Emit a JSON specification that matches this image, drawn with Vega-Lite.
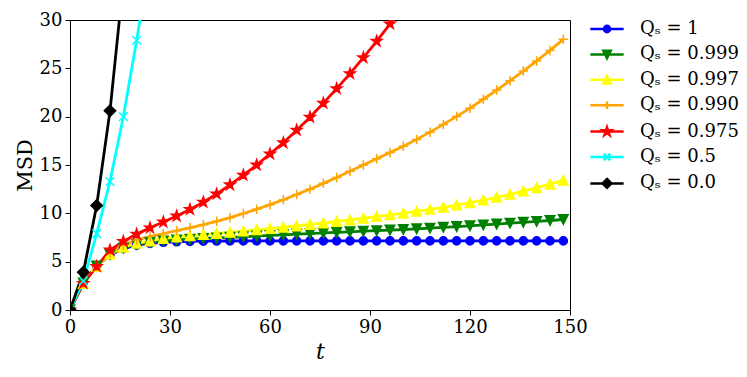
{
  "$schema": "https://vega.github.io/schema/vega-lite/v6.json",
  "width": 500,
  "height": 290,
  "autosize": "none",
  "padding": {"left": 70, "top": 20, "right": 177, "bottom": 67},
  "background": "white",
  "config": {
    "view": {"stroke": "#000", "strokeWidth": 1},
    "axis": {"domainColor": "#000", "domainWidth": 1, "tickColor": "#000", "tickWidth": 1, "tickSize": 5, "labelFont": "DejaVu Serif", "labelFontSize": 18, "labelColor": "#000", "titleFont": "DejaVu Serif", "titleFontWeight": "normal", "titleColor": "#000", "grid": false},
    "legend": {"orient": "right", "offset": 27.5, "padding": 0, "symbolSize": 81, "labelOffset": 24, "labelFont": "DejaVu Serif", "labelFontSize": 18, "labelColor": "#000", "rowPadding": 7.4, "symbolStrokeWidth": 2.5, "symbolOpacity": 1}
  },
  "datasets": {"msd": [
    {"q":"1","t":0,"msd":0},{"q":"1","t":4,"msd":2.8},{"q":"1","t":8,"msd":4.55},{"q":"1","t":12,"msd":5.7},{"q":"1","t":16,"msd":6.35},{"q":"1","t":20,"msd":6.7},{"q":"1","t":24,"msd":6.9},{"q":"1","t":28,"msd":7.0},{"q":"1","t":32,"msd":7.06},{"q":"1","t":36,"msd":7.1},{"q":"1","t":40,"msd":7.12},{"q":"1","t":44,"msd":7.13},{"q":"1","t":48,"msd":7.14},{"q":"1","t":52,"msd":7.15},{"q":"1","t":56,"msd":7.15},{"q":"1","t":60,"msd":7.15},{"q":"1","t":64,"msd":7.15},{"q":"1","t":68,"msd":7.15},{"q":"1","t":72,"msd":7.15},{"q":"1","t":76,"msd":7.15},{"q":"1","t":80,"msd":7.15},{"q":"1","t":84,"msd":7.15},{"q":"1","t":88,"msd":7.15},{"q":"1","t":92,"msd":7.15},{"q":"1","t":96,"msd":7.15},{"q":"1","t":100,"msd":7.15},{"q":"1","t":104,"msd":7.15},{"q":"1","t":108,"msd":7.15},{"q":"1","t":112,"msd":7.15},{"q":"1","t":116,"msd":7.15},{"q":"1","t":120,"msd":7.15},{"q":"1","t":124,"msd":7.15},{"q":"1","t":128,"msd":7.15},{"q":"1","t":132,"msd":7.15},{"q":"1","t":136,"msd":7.15},{"q":"1","t":140,"msd":7.15},{"q":"1","t":144,"msd":7.15},{"q":"1","t":148,"msd":7.15},
    {"q":"0.999","t":0,"msd":0},{"q":"0.999","t":4,"msd":2.8},{"q":"0.999","t":8,"msd":4.55},{"q":"0.999","t":12,"msd":5.75},{"q":"0.999","t":16,"msd":6.4},{"q":"0.999","t":20,"msd":6.8},{"q":"0.999","t":24,"msd":7.0},{"q":"0.999","t":28,"msd":7.15},{"q":"0.999","t":32,"msd":7.25},{"q":"0.999","t":36,"msd":7.33},{"q":"0.999","t":40,"msd":7.4},{"q":"0.999","t":44,"msd":7.46},{"q":"0.999","t":48,"msd":7.52},{"q":"0.999","t":52,"msd":7.58},{"q":"0.999","t":56,"msd":7.65},{"q":"0.999","t":60,"msd":7.71},{"q":"0.999","t":64,"msd":7.78},{"q":"0.999","t":68,"msd":7.85},{"q":"0.999","t":72,"msd":7.91},{"q":"0.999","t":76,"msd":7.97},{"q":"0.999","t":80,"msd":8.03},{"q":"0.999","t":84,"msd":8.09},{"q":"0.999","t":88,"msd":8.15},{"q":"0.999","t":92,"msd":8.21},{"q":"0.999","t":96,"msd":8.27},{"q":"0.999","t":100,"msd":8.33},{"q":"0.999","t":104,"msd":8.4},{"q":"0.999","t":108,"msd":8.47},{"q":"0.999","t":112,"msd":8.55},{"q":"0.999","t":116,"msd":8.63},{"q":"0.999","t":120,"msd":8.71},{"q":"0.999","t":124,"msd":8.8},{"q":"0.999","t":128,"msd":8.89},{"q":"0.999","t":132,"msd":8.98},{"q":"0.999","t":136,"msd":9.07},{"q":"0.999","t":140,"msd":9.16},{"q":"0.999","t":144,"msd":9.26},{"q":"0.999","t":148,"msd":9.36},
    {"q":"0.997","t":0,"msd":0},{"q":"0.997","t":4,"msd":2.75},{"q":"0.997","t":8,"msd":4.5},{"q":"0.997","t":12,"msd":5.8},{"q":"0.997","t":16,"msd":6.5},{"q":"0.997","t":20,"msd":6.9},{"q":"0.997","t":24,"msd":7.15},{"q":"0.997","t":28,"msd":7.4},{"q":"0.997","t":32,"msd":7.55},{"q":"0.997","t":36,"msd":7.68},{"q":"0.997","t":40,"msd":7.8},{"q":"0.997","t":44,"msd":7.92},{"q":"0.997","t":48,"msd":8.04},{"q":"0.997","t":52,"msd":8.16},{"q":"0.997","t":56,"msd":8.29},{"q":"0.997","t":60,"msd":8.42},{"q":"0.997","t":64,"msd":8.56},{"q":"0.997","t":68,"msd":8.7},{"q":"0.997","t":72,"msd":8.85},{"q":"0.997","t":76,"msd":9.0},{"q":"0.997","t":80,"msd":9.16},{"q":"0.997","t":84,"msd":9.32},{"q":"0.997","t":88,"msd":9.49},{"q":"0.997","t":92,"msd":9.66},{"q":"0.997","t":96,"msd":9.84},{"q":"0.997","t":100,"msd":10.02},{"q":"0.997","t":104,"msd":10.21},{"q":"0.997","t":108,"msd":10.41},{"q":"0.997","t":112,"msd":10.62},{"q":"0.997","t":116,"msd":10.85},{"q":"0.997","t":120,"msd":11.1},{"q":"0.997","t":124,"msd":11.37},{"q":"0.997","t":128,"msd":11.66},{"q":"0.997","t":132,"msd":11.97},{"q":"0.997","t":136,"msd":12.3},{"q":"0.997","t":140,"msd":12.65},{"q":"0.997","t":144,"msd":13.02},{"q":"0.997","t":148,"msd":13.41},
    {"q":"0.990","t":0,"msd":0},{"q":"0.990","t":4,"msd":2.75},{"q":"0.990","t":8,"msd":4.5},{"q":"0.990","t":12,"msd":5.85},{"q":"0.990","t":16,"msd":6.7},{"q":"0.990","t":20,"msd":7.25},{"q":"0.990","t":24,"msd":7.6},{"q":"0.990","t":28,"msd":7.9},{"q":"0.990","t":32,"msd":8.2},{"q":"0.990","t":36,"msd":8.5},{"q":"0.990","t":40,"msd":8.83},{"q":"0.990","t":44,"msd":9.17},{"q":"0.990","t":48,"msd":9.55},{"q":"0.990","t":52,"msd":9.98},{"q":"0.990","t":56,"msd":10.42},{"q":"0.990","t":60,"msd":10.9},{"q":"0.990","t":64,"msd":11.4},{"q":"0.990","t":68,"msd":11.95},{"q":"0.990","t":72,"msd":12.5},{"q":"0.990","t":76,"msd":13.1},{"q":"0.990","t":80,"msd":13.7},{"q":"0.990","t":84,"msd":14.35},{"q":"0.990","t":88,"msd":15.0},{"q":"0.990","t":92,"msd":15.65},{"q":"0.990","t":96,"msd":16.3},{"q":"0.990","t":100,"msd":16.95},{"q":"0.990","t":104,"msd":17.65},{"q":"0.990","t":108,"msd":18.4},{"q":"0.990","t":112,"msd":19.2},{"q":"0.990","t":116,"msd":20.03},{"q":"0.990","t":120,"msd":20.88},{"q":"0.990","t":124,"msd":21.8},{"q":"0.990","t":128,"msd":22.75},{"q":"0.990","t":132,"msd":23.72},{"q":"0.990","t":136,"msd":24.72},{"q":"0.990","t":140,"msd":25.76},{"q":"0.990","t":144,"msd":26.85},{"q":"0.990","t":148,"msd":28.0},
    {"q":"0.975","t":0,"msd":0},{"q":"0.975","t":4,"msd":2.75},{"q":"0.975","t":8,"msd":4.5},{"q":"0.975","t":12,"msd":6.2},{"q":"0.975","t":16,"msd":7.1},{"q":"0.975","t":20,"msd":7.85},{"q":"0.975","t":24,"msd":8.5},{"q":"0.975","t":28,"msd":9.1},{"q":"0.975","t":32,"msd":9.72},{"q":"0.975","t":36,"msd":10.4},{"q":"0.975","t":40,"msd":11.15},{"q":"0.975","t":44,"msd":12.0},{"q":"0.975","t":48,"msd":12.95},{"q":"0.975","t":52,"msd":13.95},{"q":"0.975","t":56,"msd":15.0},{"q":"0.975","t":60,"msd":16.15},{"q":"0.975","t":64,"msd":17.3},{"q":"0.975","t":68,"msd":18.6},{"q":"0.975","t":72,"msd":19.95},{"q":"0.975","t":76,"msd":21.4},{"q":"0.975","t":80,"msd":22.9},{"q":"0.975","t":84,"msd":24.45},{"q":"0.975","t":88,"msd":26.1},{"q":"0.975","t":92,"msd":27.8},{"q":"0.975","t":96,"msd":29.6},{"q":"0.975","t":100,"msd":31.5},
    {"q":"0.5","t":0,"msd":0},{"q":"0.5","t":4,"msd":3.0},{"q":"0.5","t":8,"msd":7.9},{"q":"0.5","t":12,"msd":13.3},{"q":"0.5","t":16,"msd":20.0},{"q":"0.5","t":20,"msd":27.9},{"q":"0.5","t":24,"msd":36.5},
    {"q":"0.0","t":0,"msd":0},{"q":"0.0","t":4,"msd":3.9},{"q":"0.0","t":8,"msd":10.8},{"q":"0.0","t":12,"msd":20.6},{"q":"0.0","t":16,"msd":34.0}
  ]},
  "data": {"name": "msd"},
  "encoding": {
    "x": {"field": "t", "type": "quantitative", "scale": {"domain": [0, 150], "nice": false, "zero": false}, "axis": {"values": [0, 30, 60, 90, 120, 150], "title": "t", "titleFontStyle": "italic", "titleFontSize": 22, "titlePadding": 5, "labelPadding": 3, "labelFlush": false}},
    "y": {"field": "msd", "type": "quantitative", "scale": {"domain": [0, 30], "nice": false}, "axis": {"values": [0, 5, 10, 15, 20, 25, 30], "title": "MSD", "titleFontSize": 21, "titlePadding": 4, "labelPadding": 3, "labelFlush": false}}
  },
  "layer": [
    {
      "mark": {"type": "line", "strokeWidth": 2.8, "clip": true},
      "encoding": {
        "color": {"field": "q", "type": "nominal", "scale": {"domain": ["1", "0.999", "0.997", "0.990", "0.975", "0.5", "0.0"], "range": ["#0000ff", "#008000", "#ffff00", "#ffa500", "#ff0000", "#00ffff", "#000000"]}, "legend": {"title": null, "labelExpr": "'Qₛ = ' + datum.label"}}
      }
    },
    {"transform": [{"filter": {"field": "q", "equal": "1"}}], "mark": {"type": "point", "shape": "M-0.85,0A0.85,0.85,0,1,0,0.85,0A0.85,0.85,0,1,0,-0.85,0Z", "filled": true, "fill": "#0000ff", "stroke": "#0000ff", "opacity": 1, "size": 90, "strokeWidth": 1.5, "clip": true}},
    {"transform": [{"filter": {"field": "q", "equal": "0.999"}}], "mark": {"type": "point", "shape": "M0,1L-1,-1L1,-1Z", "filled": true, "fill": "#008000", "stroke": "#008000", "opacity": 1, "size": 90, "strokeWidth": 1.5, "clip": true}},
    {"transform": [{"filter": {"field": "q", "equal": "0.997"}}], "mark": {"type": "point", "shape": "M0,-1L-1,1L1,1Z", "filled": true, "fill": "#ffff00", "stroke": "#ffff00", "opacity": 1, "size": 90, "strokeWidth": 1.5, "clip": true}},
    {"transform": [{"filter": {"field": "q", "equal": "0.990"}}], "mark": {"type": "point", "shape": "M-1,0H1M0,-1V1", "filled": true, "fill": "#ffa500", "stroke": "#ffa500", "opacity": 1, "size": 90, "strokeWidth": 1.5, "clip": true}},
    {"transform": [{"filter": {"field": "q", "equal": "0.975"}}], "mark": {"type": "point", "shape": "M0,-1.15L0.26,-0.36L1.09,-0.36L0.42,0.14L0.68,0.93L0,0.44L-0.68,0.93L-0.42,0.14L-1.09,-0.36L-0.26,-0.36Z", "filled": true, "fill": "#ff0000", "stroke": "#ff0000", "opacity": 1, "size": 90, "strokeWidth": 1.5, "clip": true}},
    {"transform": [{"filter": {"field": "q", "equal": "0.5"}}], "mark": {"type": "point", "shape": "M-0.9,-0.9L0.9,0.9M-0.9,0.9L0.9,-0.9", "filled": true, "fill": "#00ffff", "stroke": "#00ffff", "opacity": 1, "size": 90, "strokeWidth": 1.5, "clip": true}},
    {"transform": [{"filter": {"field": "q", "equal": "0.0"}}], "mark": {"type": "point", "shape": "M0,-1.2L1.2,0L0,1.2L-1.2,0Z", "filled": true, "fill": "#000000", "stroke": "#000000", "opacity": 1, "size": 90, "strokeWidth": 1.5, "clip": true}},
    {
      "mark": {"type": "point", "filled": true, "opacity": 0, "size": 81, "clip": true},
      "encoding": {
        "color": {"field": "q", "type": "nominal", "scale": {"domain": ["1", "0.999", "0.997", "0.990", "0.975", "0.5", "0.0"], "range": ["#0000ff", "#008000", "#ffff00", "#ffa500", "#ff0000", "#00ffff", "#000000"]}, "legend": {"title": null, "labelExpr": "'Qₛ = ' + datum.label"}},
        "stroke": {"field": "q", "type": "nominal", "scale": {"domain": ["1", "0.999", "0.997", "0.990", "0.975", "0.5", "0.0"], "range": ["#0000ff", "#008000", "#ffff00", "#ffa500", "#ff0000", "#00ffff", "#000000"]}, "legend": {"title": null, "labelExpr": "'Qₛ = ' + datum.label"}},
        "shape": {"field": "q", "type": "nominal", "scale": {"domain": ["1", "0.999", "0.997", "0.990", "0.975", "0.5", "0.0"], "range": [
          "M-3.7,0H3.7M-0.7,0A0.7,0.7,0,1,0,0.7,0A0.7,0.7,0,1,0,-0.7,0Z",
          "M-3.7,0H3.7M0,0.82L-0.82,-0.82L0.82,-0.82Z",
          "M-3.7,0H3.7M0,-0.82L-0.82,0.82L0.82,0.82Z",
          "M-3.7,0H3.7M0,-0.82V0.82",
          "M-3.7,0H3.7M0,-0.94L0.21,-0.3L0.89,-0.3L0.34,0.11L0.56,0.76L0,0.36L-0.56,0.76L-0.34,0.11L-0.89,-0.3L-0.21,-0.3Z",
          "M-3.7,0H3.7M-0.74,-0.74L0.74,0.74M-0.74,0.74L0.74,-0.74",
          "M-3.7,0H3.7M0,-0.98L0.98,0L0,0.98L-0.98,0Z"
        ]}, "legend": {"title": null, "labelExpr": "'Qₛ = ' + datum.label"}}
      }
    }
  ]
}
